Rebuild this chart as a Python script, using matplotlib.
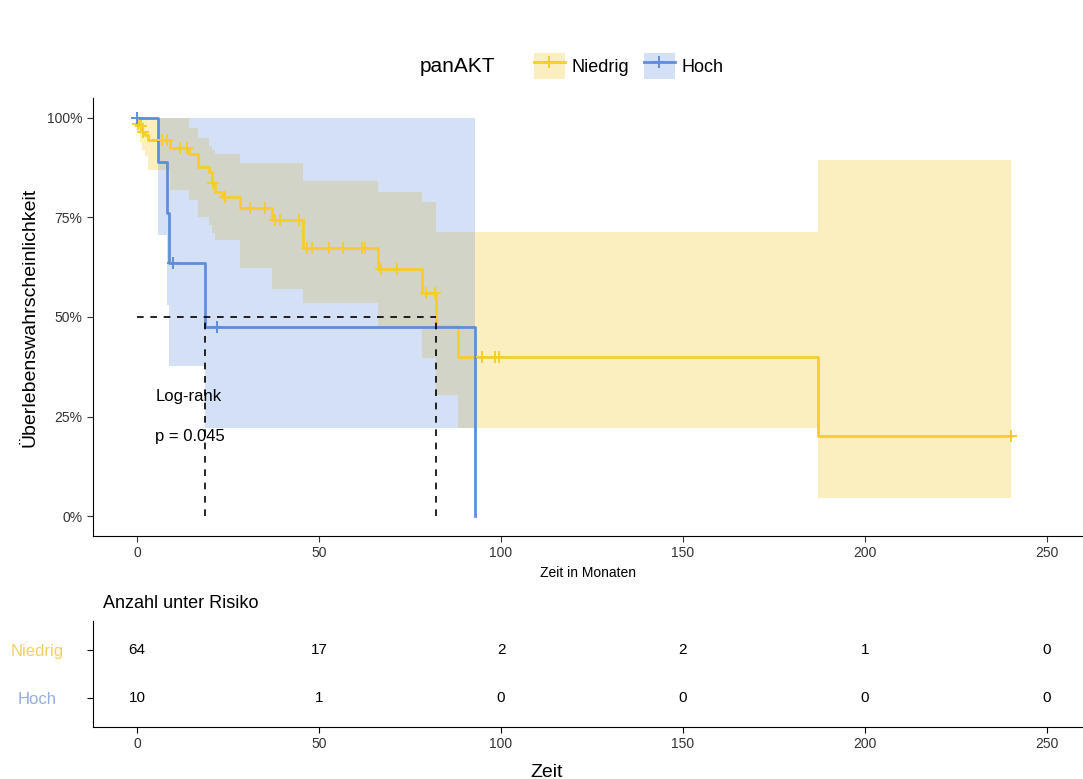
import matplotlib
matplotlib.use('Agg')
from matplotlib import pyplot as plt
from matplotlib.lines import Line2D
from matplotlib.patches import Patch
from matplotlib.legend_handler import HandlerTuple
from matplotlib.ticker import FuncFormatter

plt.rcParams['font.family'] = ['Liberation Sans', 'DejaVu Sans']

# Kaplan-Meier steps (months, survival)
niedrig_t = [0, 0.3, 0.8, 1.4, 2.2, 3.0, 9.1, 14.3, 16.8, 19.8, 20.6, 21.4, 23.4, 28.3,
             37.1, 45.6, 66.2, 78.3, 82.1, 88.2, 187.1, 240]
niedrig_s = [1.0, 0.985, 0.98, 0.965, 0.957, 0.945, 0.924, 0.91, 0.877, 0.864, 0.837, 0.814,
             0.802, 0.774, 0.744, 0.673, 0.62, 0.56, 0.477, 0.40, 0.20, 0.20]
niedrig_lo = [1.0, 0.96, 0.94, 0.92, 0.905, 0.87, 0.82, 0.795, 0.75, 0.73, 0.71, 0.693,
              0.693, 0.623, 0.57, 0.535, 0.475, 0.397, 0.304, 0.221, 0.045, 0.045]
niedrig_hi = [1.0, 1.0, 1.0, 1.0, 1.0, 1.0, 1.0, 0.975, 0.95, 0.93, 0.92, 0.91,
              0.91, 0.887, 0.887, 0.842, 0.814, 0.79, 0.714, 0.714, 0.894, 0.894]
niedrig_cens = [0.3, 1.0, 1.5, 6.9, 8.2, 11.8, 13.7, 20.9, 24.2, 31.0, 35.2, 37.9, 39.3,
                44.5, 46.7, 48.1, 52.7, 56.6, 61.8, 62.6, 67.0, 71.4, 79.4, 81.9,
                94.8, 98.4, 99.5, 240]

hoch_t = [0, 5.8, 8.2, 8.8, 18.8, 92.9]
hoch_s = [1.0, 0.889, 0.762, 0.635, 0.476, 0.0]
hoch_lo = [1.0, 0.706, 0.53, 0.377, 0.22, 0.22]
hoch_hi = [1.0, 1.0, 1.0, 1.0, 1.0, 1.0]
hoch_cens = [0, 10.0, 22.0]

medians = [18.8, 82.1]

risk_times = [0, 50, 100, 150, 200, 250]
risk_niedrig = [64, 17, 2, 2, 1, 0]
risk_hoch = [10, 1, 0, 0, 0, 0]

yellow = '#F7CD2C'
blue = '#5E8EDB'


def surv_at(t, times, surv):
    val = surv[0]
    for tt, ss in zip(times, surv):
        if tt <= t:
            val = ss
    return val


W, H = 1083, 779
fig = plt.figure(figsize=(W / 100, H / 100), dpi=100)

ax = fig.add_axes([93 / W, 1 - 536 / H, (W - 93) / W, (536 - 98) / H])

# confidence bands (yellow first, blue on top gives the greyish overlap)
ax.fill_between(niedrig_t, niedrig_lo, niedrig_hi, step='post', color=yellow, alpha=0.3, lw=0)
ax.fill_between(hoch_t, hoch_lo, hoch_hi, step='post', color=blue, alpha=0.27, lw=0)

ax.step(niedrig_t, niedrig_s, where='post', color=yellow, lw=2)
ax.step(hoch_t, hoch_s, where='post', color=blue, lw=2)

ax.plot(niedrig_cens, [surv_at(c, niedrig_t, niedrig_s) for c in niedrig_cens], ls='none',
        marker='+', ms=8, mew=1.4, color=yellow)
ax.plot(hoch_cens, [surv_at(c, hoch_t, hoch_s) for c in hoch_cens], ls='none',
        marker='+', ms=8, mew=1.4, color=blue)

# median lines
ax.plot([0, max(medians)], [0.5, 0.5], ls=(0, (4, 4)), color='black', lw=1.2)
for m in medians:
    ax.plot([m, m], [0, 0.5], ls=(0, (4, 4)), color='black', lw=1.2)

ax.text(5, 0.30, 'Log-rank', fontsize=12, va='center', ha='left')
ax.text(5, 0.20, 'p = 0.045', fontsize=12, va='center', ha='left')

ax.set_xlim(-12.1, 259.9)
ax.set_ylim(-0.05, 1.05)
ax.set_yticks([0, 0.25, 0.5, 0.75, 1.0])
ax.yaxis.set_major_formatter(FuncFormatter(lambda v, p: f'{int(round(v * 100))}%'))
ax.set_xticks(risk_times)
for s in ['top', 'right']:
    ax.spines[s].set_visible(False)
ax.tick_params(labelsize=10, length=4, color='#333333', labelcolor='#333333')
ax.set_xlabel('Zeit in Monaten', fontsize=10, labelpad=4)
ax.set_ylabel('Überlebenswahrscheinlichkeit', fontsize=14)
ax.yaxis.set_label_coords(-0.055, 0.5)

# legend
fig.text(420 / W, 1 - 66 / H, 'panAKT', fontsize=15, va='center', ha='left')
handles = [(Patch(color=yellow, alpha=0.3, lw=0), Line2D([], [], color=yellow, lw=2, marker='+', ms=9, mew=1.4)),
           (Patch(color=blue, alpha=0.27, lw=0), Line2D([], [], color=blue, lw=2, marker='+', ms=9, mew=1.4))]
fig.legend(handles, ['Niedrig', 'Hoch'], handler_map={tuple: HandlerTuple(ndivide=1, pad=0)},
           loc='center', bbox_to_anchor=(629 / W, 1 - 66 / H), ncol=2, frameon=False,
           fontsize=13, handlelength=1.7, handleheight=1.9, handletextpad=0.4, columnspacing=0.8)

# risk table
rt = fig.add_axes([93 / W, 1 - 727 / H, (W - 93) / W, (727 - 621) / H])
for x, n in zip(risk_times, risk_niedrig):
    rt.text(x, 2, str(n), ha='center', va='center', fontsize=11)
for x, n in zip(risk_times, risk_hoch):
    rt.text(x, 1, str(n), ha='center', va='center', fontsize=11)
rt.set_xlim(-12.1, 259.9)
rt.set_ylim(0.4, 2.6)
rt.set_xticks(risk_times)
rt.set_yticks([2, 1])
rt.set_yticklabels(['Niedrig', 'Hoch'])
rt.get_yticklabels()[0].set_color('#F2D063')
rt.get_yticklabels()[1].set_color('#93AEDD')
for lab in rt.get_yticklabels():
    lab.set_horizontalalignment('center')
for s in ['top', 'right']:
    rt.spines[s].set_visible(False)
rt.tick_params(axis='y', labelsize=12, length=4, pad=36)
rt.tick_params(axis='x', labelsize=10, length=4, labelcolor='#333333')
rt.set_xlabel('Zeit', fontsize=14, labelpad=6)
rt.xaxis.set_label_coords((547 - 93) / (W - 93), -0.35)
fig.text(103 / W, 1 - 603 / H, 'Anzahl unter Risiko', fontsize=13, va='center', ha='left')

fig.savefig('out.png', dpi=100)
